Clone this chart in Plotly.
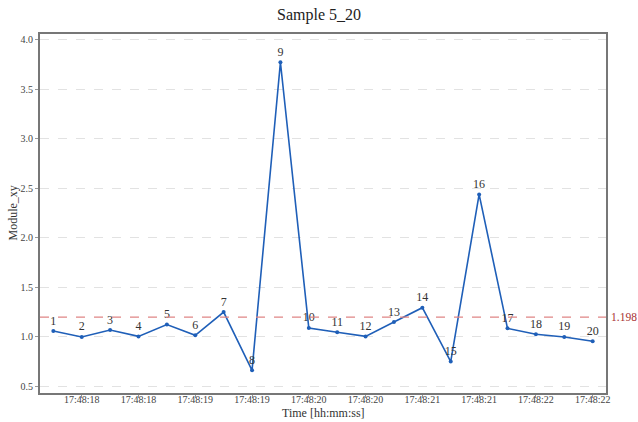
import plotly.graph_objects as go

# Sample indices and measured module values
sample_ids = list(range(1, 21))
module_xy = [1.058, 0.998, 1.068, 1.004, 1.123, 1.015, 1.250, 0.661, 3.774, 1.089,
             1.045, 1.004, 1.149, 1.294, 0.749, 2.438, 1.085, 1.025, 0.998, 0.954]

# Time labels shown on every second sample
tick_samples = [2, 4, 6, 8, 10, 12, 14, 16, 18, 20]
tick_times = ["17:48:18", "17:48:18", "17:48:19", "17:48:19", "17:48:20",
              "17:48:20", "17:48:21", "17:48:21", "17:48:22", "17:48:22"]

threshold = 1.198

serif = "Liberation Serif, Times New Roman, serif"

fig = go.Figure()

fig.add_trace(go.Scatter(
    x=sample_ids,
    y=module_xy,
    mode="lines+markers+text",
    text=[str(i) for i in sample_ids],
    textposition="top center",
    textfont=dict(family=serif, size=12, color="#333333"),
    line=dict(color="#1f5fb8", width=1.6),
    marker=dict(color="#1f5fb8", size=4),
    showlegend=False,
    hoverinfo="x+y",
))

# Reference level
fig.add_shape(type="line", xref="paper", x0=0, x1=1, yref="y",
              y0=threshold, y1=threshold,
              line=dict(color="#e08585", width=1.3, dash="dash"))
fig.add_annotation(xref="paper", x=1, yref="y", y=threshold,
                   text=f"{threshold:.3f}", showarrow=False,
                   xanchor="left", xshift=3,
                   font=dict(family=serif, size=11.5, color="#a83232"))

# Axis titles placed as annotations in the margins
fig.add_annotation(xref="paper", x=0.5, yref="paper", y=0, yshift=-20,
                   text="Time [hh:mm:ss]", showarrow=False,
                   xanchor="center", yanchor="middle",
                   font=dict(family=serif, size=12, color="#333333"))
fig.add_annotation(xref="paper", x=0, xshift=-28, yref="paper", y=0.5,
                   text="Module_xy", showarrow=False, textangle=-90,
                   xanchor="center", yanchor="middle",
                   font=dict(family=serif, size=12, color="#333333"))

fig.update_layout(
    width=638, height=422,
    margin=dict(l=40, r=32, t=34, b=29, autoexpand=False),
    paper_bgcolor="white",
    plot_bgcolor="white",
    title=dict(text="Sample 5_20", x=0.5, xanchor="center",
               y=1 - 14 / 422, yanchor="middle", yref="container",
               automargin=False,
               font=dict(family=serif, size=16, color="#222222")),
    font=dict(family=serif, color="#444444"),
)

fig.update_xaxes(
    range=[0.53, 20.47],
    automargin=False,
    tickmode="array", tickvals=tick_samples, ticktext=tick_times,
    tickfont=dict(family=serif, size=10, color="#444444"),
    ticks="outside", ticklen=3, tickcolor="#999999",
    ticklabelstandoff=-7,
    showgrid=False, zeroline=False,
    showline=True, mirror=True, linecolor="#777777", linewidth=2,
)

fig.update_yaxes(
    range=[0.432, 4.059],
    automargin=False,
    tickvals=[0.5, 1.0, 1.5, 2.0, 2.5, 3.0, 3.5, 4.0],
    ticktext=["0.5", "1.0", "1.5", "2.0", "2.5", "3.0", "3.5", "4.0"],
    tickfont=dict(family=serif, size=10, color="#444444"),
    ticks="outside", ticklen=3, tickcolor="#999999",
    showgrid=True, gridcolor="#e2e2e2", griddash="dash", gridwidth=1,
    zeroline=False,
    showline=True, mirror=True, linecolor="#777777", linewidth=2,
)

fig.write_html("out.html")
